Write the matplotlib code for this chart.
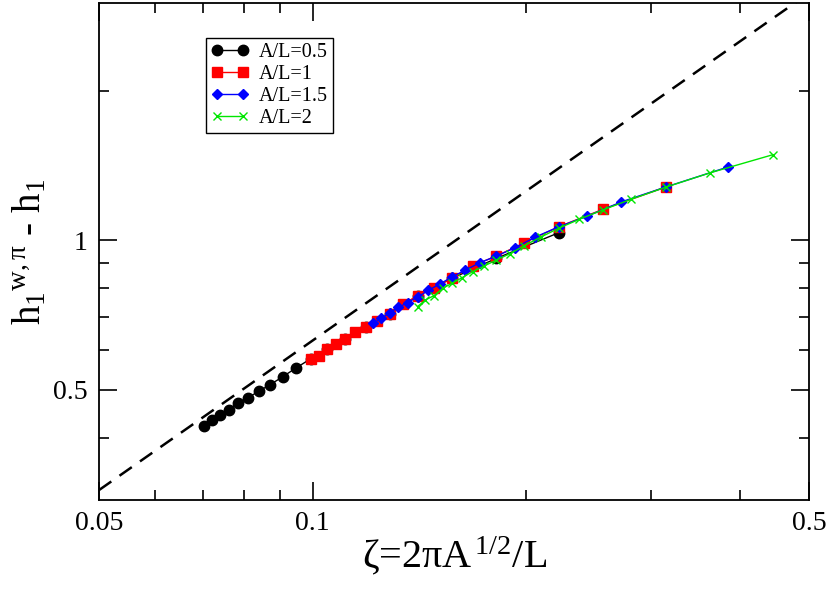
import matplotlib
matplotlib.use('Agg')
import matplotlib.pyplot as plt
import numpy as np
from matplotlib.ticker import FixedLocator, NullFormatter, FixedFormatter

plt.rcParams['font.family'] = ['Liberation Serif', 'DejaVu Serif']
plt.rcParams['mathtext.fontset'] = 'custom'
plt.rcParams['mathtext.rm'] = 'Liberation Serif'
plt.rcParams['mathtext.it'] = 'Liberation Serif'
plt.rcParams['mathtext.default'] = 'regular'

# zeta values and h values
zeta_05 = [0.0703, 0.0721, 0.0741, 0.0762, 0.0785, 0.0811, 0.0840, 0.0871, 0.0907, 0.0947,
           0.0993, 0.1047, 0.1111, 0.1187, 0.1283, 0.1405, 0.1571, 0.1814, 0.2221]
h_05 = [0.422, 0.435, 0.445, 0.456, 0.471, 0.482, 0.497, 0.512, 0.531, 0.553,
        0.577, 0.603, 0.634, 0.670, 0.709, 0.773, 0.838, 0.919, 1.035]

zeta_1 = [0.0993, 0.1019, 0.1047, 0.1078, 0.1111, 0.1147, 0.1187, 0.1232, 0.1283, 0.1340,
          0.1405, 0.1481, 0.1571, 0.1679, 0.1814, 0.1987, 0.2221, 0.2565, 0.3142]
h_1 = [0.577, 0.586, 0.603, 0.617, 0.634, 0.653, 0.670, 0.689, 0.709, 0.743,
       0.773, 0.802, 0.838, 0.888, 0.929, 0.988, 1.064, 1.154, 1.279]

zeta_15 = [0.1217, 0.1248, 0.1283, 0.1320, 0.1360, 0.1405, 0.1454, 0.1509, 0.1571, 0.1641,
           0.1721, 0.1814, 0.1924, 0.2057, 0.2221, 0.2433, 0.2721, 0.3142, 0.3848]
h_15 = [0.680, 0.696, 0.714, 0.732, 0.749, 0.768, 0.792, 0.816, 0.843, 0.871,
        0.901, 0.929, 0.964, 1.014, 1.064, 1.117, 1.194, 1.279, 1.404]

zeta_2 = [0.1405, 0.1441, 0.1481, 0.1524, 0.1571, 0.1622, 0.1679, 0.1743, 0.1814, 0.1895,
          0.1987, 0.2094, 0.2222, 0.2375, 0.2565, 0.2810, 0.3142, 0.3628, 0.4443]
h_2 = [0.735, 0.758, 0.773, 0.800, 0.819, 0.840, 0.864, 0.887, 0.912, 0.939,
       0.975, 1.014, 1.057, 1.102, 1.151, 1.209, 1.278, 1.366, 1.485]

# dashed reference line h = 2*pi*zeta
line_zeta = [0.05, 0.5]

fig = plt.figure(figsize=(8.3, 5.9), dpi=100)
ax = fig.add_axes([0.1193, 0.1525, 0.8554, 0.8424])

ax.plot(line_zeta, [2 * np.pi * z for z in line_zeta], 'k--', lw=1.8, dashes=(6, 4))

ax.plot(zeta_05, h_05, '-o', color='black', mfc='black', mec='black', ms=7.5, lw=1, label='A/L=0.5')
ax.plot(zeta_1, h_1, '-s', color='red', mfc='red', mec='red', ms=6.5, lw=1, label='A/L=1')
ax.plot(zeta_15, h_15, '-D', color='blue', mfc='blue', mec='blue', ms=5.5, lw=1, label='A/L=1.5')
ax.plot(zeta_2, h_2, '-x', color='#00e600', ms=5.5, mew=1, lw=1, label='A/L=2')

ax.set_xscale('log')
ax.set_yscale('log')
ax.set_xlim(0.05, 0.5)
ax.set_ylim(0.3, 3.0)

ax.xaxis.set_major_locator(FixedLocator([0.05, 0.1, 0.5]))
ax.xaxis.set_major_formatter(FixedFormatter(['0.05', '0.1', '0.5']))
ax.xaxis.set_minor_locator(FixedLocator([0.06, 0.07, 0.08, 0.09, 0.2, 0.3, 0.4]))
ax.xaxis.set_minor_formatter(NullFormatter())
ax.yaxis.set_major_locator(FixedLocator([0.5, 1.0]))
ax.yaxis.set_major_formatter(FixedFormatter(['0.5', '1']))
ax.yaxis.set_minor_locator(FixedLocator([0.4, 0.6, 0.7, 0.8, 0.9, 2.0]))
ax.yaxis.set_minor_formatter(NullFormatter())

ax.tick_params(which='both', direction='in', top=True, right=True, width=1.2)
ax.tick_params(which='major', length=13, labelsize=20, pad=8)
ax.tick_params(which='minor', length=7)
for s in ax.spines.values():
    s.set_linewidth(1.3)

ax.set_xlabel('ζ=2πA$^{\\,1/2}$/L', fontsize=29, va='center')
ax.xaxis.set_label_coords(0.5, -0.112)
ax.set_ylabel('h$_1$$^{w,π}$ - h$_1$', fontsize=28, va='center')
ax.yaxis.set_label_coords(-0.097, 0.5)

leg = ax.legend(loc='upper left', bbox_to_anchor=(0.150, 0.93), fontsize=14.5, numpoints=2,
                fancybox=False, edgecolor='black', framealpha=1, handlelength=1.9,
                borderpad=0.25, labelspacing=0.15, handletextpad=0.5, borderaxespad=0)
leg.get_frame().set_linewidth(1.0)

fig.savefig('out.png', dpi=100)
